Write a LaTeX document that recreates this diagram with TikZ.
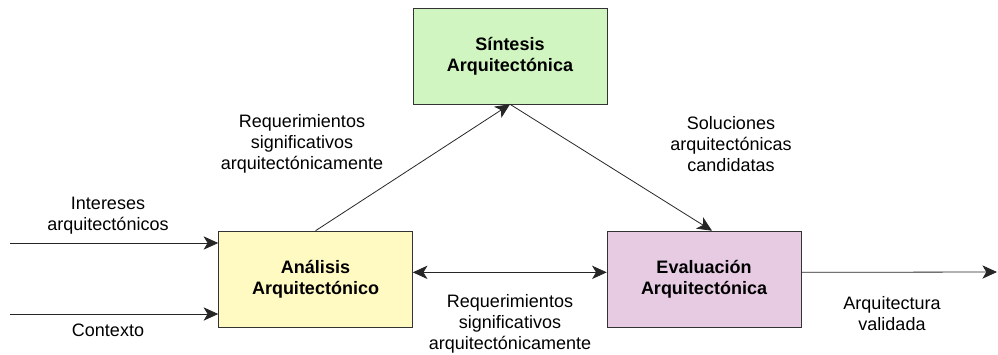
\documentclass[tikz,border=0pt]{standalone}
\usepackage{fontspec}
\setmainfont{Liberation Sans}
\usetikzlibrary{arrows.meta}

% Colors
\definecolor{verdecaja}{RGB}{208,245,192}
\definecolor{amarillocaja}{RGB}{255,249,194}
\definecolor{rosacaja}{RGB}{231,203,227}

\begin{document}
\begin{tikzpicture}[x=0.75pt,y=-0.75pt,
		caja/.style={draw=black!80, rectangle, minimum width=145.5pt, minimum height=72pt,
			inner sep=0pt, align=center, font=\fontsize{13.5}{15.75}\selectfont\bfseries},
		etiqueta/.style={align=center, inner sep=0pt, font=\fontsize{13.5}{15.75}\selectfont},
		flecha/.style={-{Stealth[length=11pt,width=10pt,inset=3pt]}, draw=black!85, line width=0.6pt}]
	\useasboundingbox (0,0) rectangle (998,354);

	% Boxes
	\node[caja, fill=verdecaja] (sintesis) at (510,56) {Síntesis\\Arquitectónica};
	\node[caja, fill=amarillocaja] (analisis) at (315.5,279) {Análisis\\Arquitectónico};
	\node[caja, fill=rosacaja] (evaluacion) at (704,279) {Evaluación\\Arquitectónica};

	% Free ends
	\coordinate (intereses) at (10,243);
	\coordinate (contexto) at (10,314);
	\coordinate (salida) at (997,272);

	% Connectors
	\draw[flecha] (intereses) -- (intereses -| analisis.west);
	\draw[flecha] (contexto) -- (contexto -| analisis.west);
	\draw[flecha] (analisis.north) -- (sintesis.south);
	\draw[flecha] (sintesis.south) -- ([xshift=6pt]evaluacion.north);
	\draw[flecha, {Stealth[length=11pt,width=10pt,inset=3pt]}-{Stealth[length=11pt,width=10pt,inset=3pt]}]
		([yshift=5pt]analisis.east) -- ([yshift=5pt]evaluacion.west);
	\draw[flecha] ([yshift=5pt]evaluacion.east) -- (salida);

	% Labels
	\node[etiqueta] (lintereses) at (108,216) {Intereses\\arquitectónicos};
	\node[etiqueta] (lcontexto) at (108,330) {Contexto};
	\node[etiqueta] (lreqarriba) at (302,144) {Requerimientos\\significativos\\arquitectónicamente};
	\node[etiqueta] (lsoluciones) at (731,144) {Soluciones\\arquitectónicas\\candidatas};
	\node[etiqueta] (lreqabajo) at (510,324) {Requerimientos\\significativos\\arquitectónicamente};
	\node[etiqueta] (lvalidada) at (892,314) {Arquitectura\\validada};

\end{tikzpicture}
\end{document}
